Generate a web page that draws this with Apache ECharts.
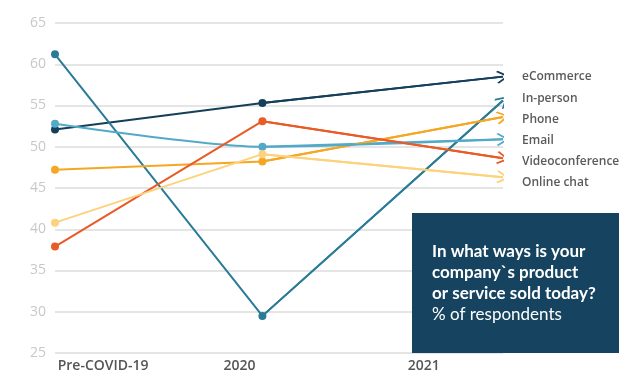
<!DOCTYPE html>
<html>
<head>
<meta charset="utf-8">
<script src="https://cdn.jsdelivr.net/npm/echarts@6/dist/echarts.min.js"></script>
<style>
html,body{margin:0;padding:0;background:#fff;}
#c{width:644px;height:389px;}
</style>
</head>
<body>
<div id="c"></div>
<script>
// ---- data ----
var periods = ['Pre-COVID-19', '2020', '2021'];
var periodPos = [0, 1, 2.16];          // position of each period along the x scale
var periodLabelPos = [0.232, 0.889, 1.778];
var seriesNames = ['eCommerce', 'In-person', 'Phone', 'Email', 'Videoconference', 'Online chat'];
var eCommerce = [52.1, 55.3, 58.5];
var inPerson = [61.2, 29.5, 55.6];
var phone = [47.2, 48.2, 53.6];
var email = [52.8, 50.0, 50.9];
var videoconference = [37.9, 53.1, 48.6];
var onlineChat = [40.8, 49.1, 46.3];
var yTicks = [25, 30, 35, 40, 45, 50, 55, 60, 65];
var boxTitle = ['In what ways is your', 'company`s product', 'or service sold today?'];
var boxSub = '% of respondents';

var colors = ['#143e59', '#2a7b96', '#f5a623', '#52aac8', '#e95a26', '#fdd27e'];
var values = [eCommerce, inPerson, phone, email, videoconference, onlineChat];

var arrowPath = 'path://M0,0 L10,10 L8.4,11.6 L0,3.2 L-8.4,11.6 L-10,10 Z';

var series = [];
seriesNames.forEach(function (name, i) {
  var vals = values[i];
  series.push({
    name: name,
    type: 'line',
    smooth: name === 'Email' ? 0.25 : false,
    data: vals.map(function (v, k) {
      var item = { value: [periodPos[k], v] };
      if (k === vals.length - 1) item.symbol = 'none';
      return item;
    }),
    symbol: 'circle',
    symbolSize: 8,
    showSymbol: true,
    lineStyle: { color: colors[i], width: 2 },
    itemStyle: { color: colors[i] },
    z: 3
  });
  series.push({
    name: name,
    type: 'lines',
    coordinateSystem: 'cartesian2d',
    symbol: ['none', arrowPath],
    symbolSize: [16, 13],
    symbolOffset: [0, 3],
    lineStyle: { color: colors[i], width: 2, opacity: 1 },
    data: [{ coords: [[periodPos[1], vals[1]], [periodPos[2], vals[2]]] }],
    z: 3,
    silent: true
  });
});

var chart = echarts.init(document.getElementById('c'));
chart.setOption({
  animation: false,
  grid: { left: 55, right: 141, top: 23, bottom: 36 },
  xAxis: {
    type: 'value',
    min: 0,
    max: periodPos[2],
    axisLine: { show: false },
    axisTick: { show: false },
    splitLine: { show: false },
    axisLabel: {
      customValues: periodLabelPos,
      formatter: function (v) {
        for (var k = 0; k < periodLabelPos.length; k++) {
          if (Math.abs(periodLabelPos[k] - v) < 1e-6) return periods[k];
        }
        return '';
      },
      color: '#555555',
      fontFamily: 'Open Sans',
      fontWeight: 600,
      fontSize: 14,
      margin: 6
    }
  },
  yAxis: {
    type: 'value',
    min: yTicks[0],
    max: yTicks[yTicks.length - 1],
    interval: 5,
    axisLine: { show: false },
    axisTick: { show: false },
    splitLine: { lineStyle: { color: '#e5e5e5', width: 2 } },
    axisLabel: { color: '#c8c8c8', fontFamily: 'Open Sans', fontSize: 14, margin: 9 }
  },
  legend: {
    orient: 'vertical',
    left: 512,
    top: 65,
    data: seriesNames,
    icon: 'none',
    itemWidth: 0,
    itemHeight: 14,
    itemGap: 7.2,
    selectedMode: false,
    textStyle: { color: '#5a5a5a', fontFamily: 'Open Sans', fontWeight: 600, fontSize: 12, lineHeight: 14 }
  },
  graphic: [
    {
      type: 'rect',
      left: 412,
      top: 213,
      shape: { width: 207, height: 140 },
      style: { fill: '#164460' },
      z: 10
    },
    {
      type: 'text',
      left: 432,
      top: 243,
      style: {
        text: boxTitle.map(function (t) { return '{b|' + t + '}'; }).join('\n') + '\n{n|' + boxSub + '}',
        rich: {
          b: { fill: '#ffffff', fontFamily: 'Lato', fontWeight: 'bold', fontSize: 17, lineHeight: 21 },
          n: { fill: '#ffffff', fontFamily: 'Lato', fontWeight: 'normal', fontSize: 17, lineHeight: 21 }
        }
      },
      z: 11
    }
  ],
  series: series
});
</script>
</body>
</html>
